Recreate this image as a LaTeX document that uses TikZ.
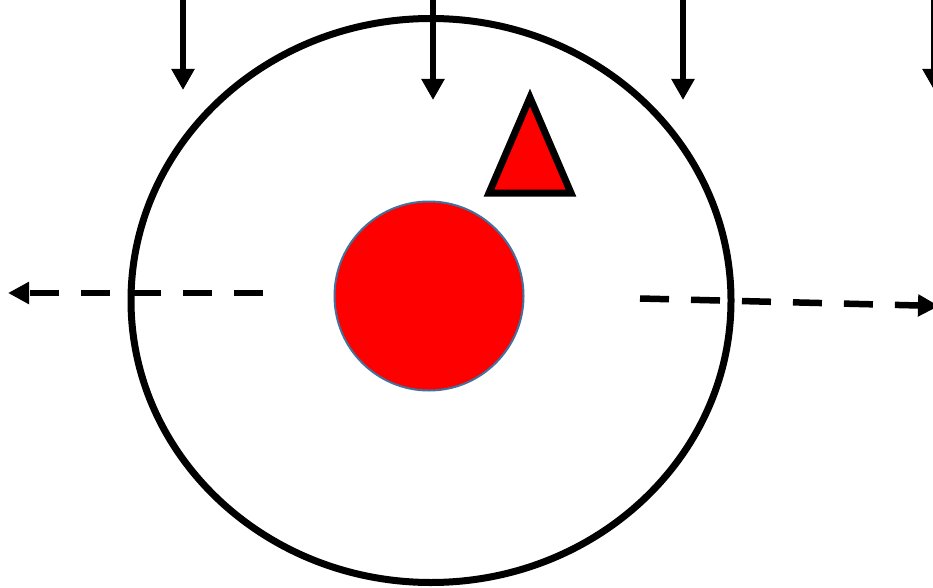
\documentclass[tikz,border=0pt]{standalone}
\usetikzlibrary{arrows.meta}
\definecolor{circleedge}{HTML}{41719C}
\tikzset{
  downarrow/.style={line width=6.5pt, -{Triangle[length=21pt,width=22pt]}},
  flowarrow/.style={line width=6.5pt, dash pattern=on 29pt off 22pt, -{Triangle[length=21pt,width=21pt]}},
  cellwall/.style={line width=7pt, draw=black},
}
\begin{document}
\begin{tikzpicture}[x=1pt,y=-1pt]
\useasboundingbox (0,0) rectangle (933,588);
\clip (0,0) rectangle (933,588);
\fill[white] (0,0) rectangle (933,588);
% outer ellipse
\draw[cellwall] (431,300.5) ellipse [x radius=300, y radius=282];
% inner red circle
\node[circle, minimum size=189pt, inner sep=0pt, fill=red, draw=circleedge, line width=2pt] (nucleus) at (429,296) {};
% triangle
\draw[line width=7pt, fill=red, line join=miter] (489,193) -- (530,97.5) -- (571,193) -- cycle;
% vertical arrows
\coordinate (a1s) at (183,-5); \coordinate (a1e) at (183,90);
\coordinate (a2s) at (433,-5); \coordinate (a2e) at (433,100);
\coordinate (a3s) at (683,-5); \coordinate (a3e) at (683,100);
\coordinate (a4s) at (934,-5); \coordinate (a4e) at (934,90);
\draw[downarrow] (a1s) -- (a1e);
\draw[downarrow] (a2s) -- (a2e);
\draw[downarrow] (a3s) -- (a3e);
\draw[downarrow] (a4s) -- (a4e);
% dashed arrows
\coordinate (ls) at (263,293); \coordinate (le) at (8,293);
\coordinate (rs) at (640,298.5); \coordinate (re) at (939,306);
\draw[flowarrow] (ls) -- (le);
\draw[flowarrow] (rs) -- (re);
\end{tikzpicture}
\end{document}
